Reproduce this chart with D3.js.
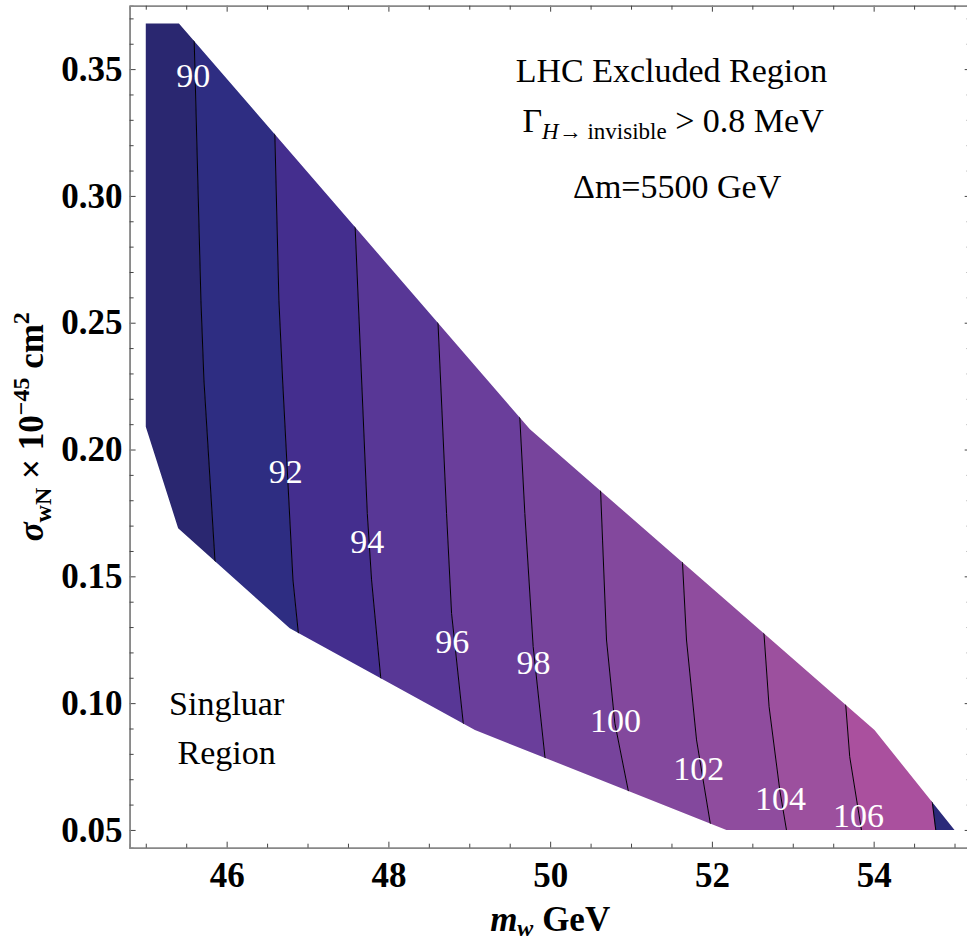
<!DOCTYPE html>
<html>
<head>
<meta charset="utf-8">
<script src="https://cdn.jsdelivr.net/npm/d3@7"></script>
<style>
body{margin:0;background:#fff}
text{font-family:"Liberation Serif","Times New Roman",serif}
</style>
</head>
<body>
<svg id="chart" width="967" height="943"></svg>
<script>
// contour levels, one line per level (m_w GeV, sigma)
var levels = [90, 92, 94, 96, 98, 100, 102, 104, 106, 108]
var line90 = [[45.599,0.3608],[45.682,0.2589],[45.719,0.2274],[45.855,0.1564]]
var line92 = [[46.597,0.3228],[46.646,0.2589],[46.692,0.2274],[46.820,0.1486],[46.885,0.1281]]
var line94 = [[47.669,0.2274],[47.739,0.1748],[47.792,0.1486],[47.904,0.1104]]
var line96 = [[48.645,0.2274],[48.719,0.1748],[48.781,0.1354],[48.925,0.0923]]
var line98 = [[49.626,0.2119],[49.687,0.1748],[49.790,0.1223],[49.935,0.0789]]
var line100 = [[50.648,0.1643],[50.697,0.1249],[50.800,0.0921],[50.964,0.0658]]
var line102 = [[51.637,0.1551],[51.686,0.1249],[51.810,0.0855],[51.983,0.0520]]
var line104 = [[52.645,0.1269],[52.707,0.0986],[52.839,0.0658],[52.922,0.0500]]
var line106 = [[53.655,0.0993],[53.704,0.0789],[53.849,0.0500]]
var line108 = [[54.727,0.0605],[54.768,0.0500]]
var contourLines = [line90, line92, line94, line96, line98, line100, line102, line104, line106, line108]

// band colours, below 90 ... above 108
var bandColors = ['#2a2770','#2e2d82','#442e8e','#583796','#6a3e9b','#77449c',
                  '#83489d','#8f4c9e','#9c509e','#aa509e','#2b2a7a']

// outline of the excluded region
var regionUpper = [[45.0,0.368],[45.41,0.368],[49.75,0.208],[54.01,0.0894],[55.0,0.05]]
var regionLower = [[52.18,0.05],[49.07,0.0894],[46.78,0.1295],[45.40,0.169],[45.0,0.209]]

// contour label anchors (centre of text)
var labelPos = [[45.587,0.3475],[46.731,0.1916],[47.740,0.1640],[48.791,0.1244],[49.795,0.1160],
                [50.808,0.0934],[51.838,0.0742],[52.848,0.0627],[53.812,0.0558]]

var xTicks = [46, 48, 50, 52, 54]
var yTicks = [0.05, 0.10, 0.15, 0.20, 0.25, 0.30, 0.35]

var svg = d3.select('#chart')
var x = d3.scaleLinear().domain([44.8, 55.2]).range([129.6, 970.7])
var y = d3.scaleLinear().domain([0.043, 0.375]).range([847.7, 5.7])

// extend a contour line past the plot so bands cover the region
function extend(pts){
    var p = pts.slice()
    var a = p[0], b = p[1]
    var s = (b[0]-a[0])/(b[1]-a[1])
    p.unshift([a[0] + s*(0.40-a[1]), 0.40])
    var c = p[p.length-2], d = p[p.length-1]
    s = (d[0]-c[0])/(d[1]-c[1])
    p.push([d[0] + s*(0.02-d[1]), 0.02])
    return p
}
var ext = contourLines.map(extend)

var line = d3.line().x(d => x(d[0])).y(d => y(d[1]))

svg.append('clipPath').attr('id','region')
    .append('path')
    .attr('d', line(regionUpper.concat(regionLower)) + 'Z')

var bands = []
for (var i = 0; i <= ext.length; i++){
    var left = i == 0 ? [[43,0.40],[43,0.02]] : ext[i-1]
    var right = i == ext.length ? [[57,0.40],[57,0.02]] : ext[i]
    bands.push(left.concat(right.slice().reverse()))
}

var g = svg.append('g').attr('clip-path','url(#region)')
g.selectAll('path.band')
    .data(bands)
    .join('path')
    .attr('class','band')
    .attr('d', d => line(d) + 'Z')
    .attr('fill', (d,i) => bandColors[i])
    .attr('stroke', (d,i) => bandColors[i])
    .attr('stroke-width', 0.5)
g.selectAll('path.cline')
    .data(ext)
    .join('path')
    .attr('class','cline')
    .attr('d', line)
    .attr('fill','none')
    .attr('stroke','#000')
    .attr('stroke-width',1)

svg.selectAll('text.clabel')
    .data(labelPos)
    .join('text')
    .attr('class','clabel')
    .attr('x', d => x(d[0]))
    .attr('y', d => y(d[1]))
    .attr('dy','0.35em')
    .attr('text-anchor','middle')
    .attr('fill','#fff')
    .attr('font-size',34)
    .text((d,i) => levels[i])

// frame and ticks
var minorX = d3.range(45, 55.01, 0.5).filter(v => xTicks.indexOf(v) < 0)
var minorY = d3.range(0.05, 0.3701, 0.01).map(v => +v.toFixed(2)).filter(v => yTicks.indexOf(v) < 0)

var bottom = svg.append('g').attr('transform','translate(0,847.7)')
    .call(d3.axisBottom(x).tickValues(xTicks).tickSize(-6).tickSizeOuter(0).tickPadding(14).tickFormat(d3.format('d')))
bottom.append('g').call(d3.axisBottom(x).tickValues(minorX).tickSize(-4).tickFormat(''))
var leftAx = svg.append('g').attr('transform','translate(129.6,0)')
    .call(d3.axisLeft(y).tickValues(yTicks).tickSize(-6).tickSizeOuter(0).tickPadding(7).tickFormat(d3.format('.2f')))
leftAx.append('g').call(d3.axisLeft(y).tickValues(minorY).tickSize(-4).tickFormat(''))
var topAx = svg.append('g').attr('transform','translate(0,5.7)')
    .call(d3.axisTop(x).tickValues(xTicks).tickSize(-6).tickSizeOuter(0).tickFormat(''))
topAx.append('g').call(d3.axisTop(x).tickValues(minorX).tickSize(-4).tickFormat(''))
var rightAx = svg.append('g').attr('transform','translate(970.7,0)')
    .call(d3.axisRight(y).tickValues(yTicks).tickSize(-6).tickSizeOuter(0).tickFormat(''))
rightAx.append('g').call(d3.axisRight(y).tickValues(minorY).tickSize(-4).tickFormat(''))

svg.selectAll('.domain').attr('stroke','#888').attr('stroke-width',1.5)
svg.selectAll('.tick line').attr('stroke','#444')
svg.selectAll('.tick text')
    .attr('font-family','"Liberation Serif",serif')
    .attr('font-weight','bold')
    .attr('font-size',35)
    .attr('fill','#000')
bottom.selectAll('.tick text').attr('dy','0.71em')

// axis titles
var xt = svg.append('text')
    .attr('x', (x.range()[0]+x.range()[1])/2).attr('y', 931)
    .attr('text-anchor','middle').attr('font-weight','bold').attr('font-size',35)
xt.append('tspan').attr('font-style','italic').text('m')
xt.append('tspan').attr('font-style','italic').attr('font-size',24).attr('dy',5).text('w')
xt.append('tspan').attr('dy',-5).text(' GeV')

var yt = svg.append('text')
    .attr('transform','translate(43,' + (y.range()[0]+y.range()[1])/2 + ') rotate(-90)')
    .attr('text-anchor','middle').attr('font-weight','bold').attr('font-size',35)
yt.append('tspan').attr('font-style','italic').text('σ')
yt.append('tspan').attr('font-size',24).attr('dy',8).text('wN')
yt.append('tspan').attr('dy',-8).text(' × 10')
yt.append('tspan').attr('font-size',24).attr('dy',-14).text('−45')
yt.append('tspan').attr('dy',14).text(' cm')
yt.append('tspan').attr('font-size',24).attr('dy',-14).text('2')

// annotations
svg.append('text').attr('x', x(51.5)).attr('y', y(0.345))
    .attr('text-anchor','middle').attr('font-size',34).text('LHC Excluded Region')
var t2 = svg.append('text').attr('x', x(51.52)).attr('y', y(0.3253))
    .attr('text-anchor','middle').attr('font-size',34)
t2.append('tspan').text('Γ')
t2.append('tspan').attr('font-size',23).attr('dy',7).attr('font-style','italic').text('H')
t2.append('tspan').attr('font-size',23).text('→ invisible')
t2.append('tspan').attr('dy',-7).text(' > 0.8 MeV')
svg.append('text').attr('x', x(51.57)).attr('y', y(0.2992))
    .attr('text-anchor','middle').attr('font-size',34).text('Δm=5500 GeV')

svg.append('text').attr('x', x(46.0)).attr('y', y(0.0953))
    .attr('text-anchor','middle').attr('font-size',34).text('Singluar')
svg.append('text').attr('x', x(46.0)).attr('y', y(0.076))
    .attr('text-anchor','middle').attr('font-size',34).text('Region')
</script>
</body>
</html>
